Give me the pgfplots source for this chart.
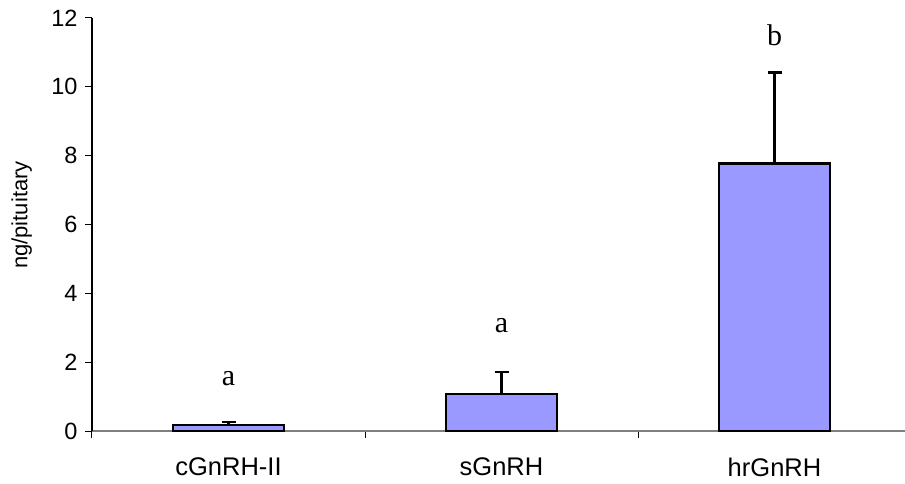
\documentclass[border=0pt]{standalone}
\usepackage{fontspec}
\setmainfont{Liberation Sans}
\newfontfamily\seriffont{Liberation Serif}
\usepackage{pgfplots}
\pgfplotsset{compat=1.18}
\definecolor{barblue}{HTML}{9999FF}
\definecolor{axgray}{HTML}{808080}
\begin{document}
\begin{tikzpicture}[x=1pt,y=1pt]
\useasboundingbox (0,0) rectangle (905,483);
\begin{axis}[
  at={(92pt,52pt)}, anchor=south west,
  scale only axis, width=819pt, height=413pt,
  xmin=-0.5, xmax=2.5, ymin=0, ymax=12,
  axis x line*=bottom, axis y line*=left,
  x axis line style={axgray, line width=1.3pt},
  y axis line style={black, line width=1.3pt},
  ytick={0,2,...,12},
  xtick={0,1,2},
  xticklabels={cGnRH-II,sGnRH,hrGnRH},
  major x tick style={draw=none},
  minor xtick={-0.5,0.5,1.5,2.5},
  minor x tick style={draw=black, line width=1pt},
  minor tick length=7pt,
  major tick length=7pt,
  tick align=outside,
  y tick style={black, line width=1pt},
  yticklabel style={font=\fontsize{23.5}{25}\selectfont, xshift=-4pt},
  xticklabel style={font=\fontsize{25.5}{27}\selectfont, yshift=-16pt},
  /pgf/number format/assume math mode=true,
  ylabel={ng/pituitary},
  ylabel style={font=\fontsize{22}{24}\selectfont, at={(axis description cs:-0.086,0.523)}, anchor=center},
  clip=false,
  ybar, bar width=111pt,
  every axis plot/.append style={line width=2.6pt},
]
\addplot[fill=barblue, draw=black, /tikz/line width=2.6pt,
  error bars/.cd, y dir=plus, y explicit,
  error mark=|,
  error bar style={line width=2.6pt, solid, black},
  error mark options={line width=2.6pt, mark size=7pt, black}]
  coordinates {(0,0.17) +- (0,0.09) (1,1.07) +- (0,0.64) (2,7.77) +- (0,2.65)};
\node[font=\seriffont\fontsize{30}{31}\selectfont, anchor=base] at (axis cs:0,1.31) {a};
\node[font=\seriffont\fontsize{30}{31}\selectfont, anchor=base] at (axis cs:1,2.85) {a};
\node[font=\seriffont\fontsize{30}{31}\selectfont, anchor=base] at (axis cs:2,11.21) {b};
\end{axis}
\end{tikzpicture}
\end{document}
